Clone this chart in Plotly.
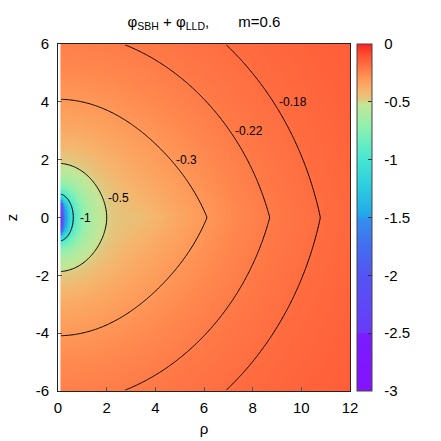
import numpy as np
import plotly.graph_objects as go

# ---- chart values ----
title_m = 0.6
# model parameters read/fitted from the picture's contours
bh_mass = 0.54          # Weyl rod half-length of the Schwarzschild BH
disk_mass = 1.45        # mass of the (inverted Morgan-Morgan) Lemos-Letelier disk
disk_inner = 2.8        # inner edge of the disk
levels = [-1.0, -0.5, -0.3, -0.22, -0.18]
label_text = ["-1", "-0.5", "-0.3", "-0.22", "-0.18"]
label_z = [0.0, 0.69, 1.99, 3.0, 3.98]
x_tickvals = [0, 2, 4, 6, 8, 10, 12]
y_tickvals = [-6, -4, -2, 0, 2, 4, 6]
cb_tickvals = [0, -0.5, -1, -1.5, -2, -2.5, -3]
rho_lim = [0, 12]
z_lim = [-6, 6]


def phi_sbh(rho, z, M):
    Rp = np.sqrt(rho**2 + (z + M)**2)
    Rm = np.sqrt(rho**2 + (z - M)**2)
    return 0.5*np.log((Rp + Rm - 2*M)/(Rp + Rm + 2*M))


def phi_mm1_unit(rho, z, a):
    R2 = rho**2 + z**2
    s = R2/a**2 - 1
    u2 = np.maximum(0.5*(s + np.sqrt(s**2 + 4*z**2/a**2)), 0)
    u = np.sqrt(u2)
    v2 = np.clip(1 - rho**2/(a**2*(1 + u2)), 0, 1)
    acot = np.arctan2(1.0, u)
    ul = np.maximum(u, 1e-9)
    q2 = np.where(u > 20, 2/(15*ul**3) - 4/(35*ul**5), 0.5*((3*u2 + 1)*acot - 3*u))
    P2 = 0.5*(3*v2 - 1)
    return -(1/a)*(acot + q2*P2)


def phi_lld(rho, z, m, a):
    r2 = rho**2 + z**2
    rp = a**2*rho/r2
    zp = a**2*z/r2
    return m*np.sqrt(a**2/r2)*(4/(3*np.pi))*phi_mm1_unit(rp, zp, a)


def phi(rho, z):
    return phi_sbh(rho, z, bh_mass) + phi_lld(rho, z, disk_mass, disk_inner)


rho_c = np.arange(0.125, 12.0, 0.05)
z_c = np.arange(-5.975, 6.0, 0.05)
RR, ZZ = np.meshgrid(rho_c, z_c)
F = phi(RR, ZZ)

cstops = [(-3.0, '#8412ff'), (-2.51, '#7a1cfe'), (-2.49, '#6a3af8'), (-2.25, '#5e48f6'),
          (-2.0, '#5454f4'), (-1.75, '#426ef0'), (-1.51, '#3490ee'), (-1.49, '#22a6ea'),
          (-1.25, '#2ccae0'), (-1.0, '#46e6d2'), (-0.85, '#6aeec2'), (-0.7, '#94f0ac'),
          (-0.52, '#c4e696'), (-0.48, '#e0c880'), (-0.4, '#f6b46c'), (-0.3, '#ff9858'),
          (-0.2, '#ff7444'), (-0.1, '#ff5232'), (0.0, '#ff2020')]
cscale = [[(v + 3)/3, c] for v, c in cstops]

FONT = 'Liberation Sans'
pad = '\u00a0\u00a0'
fig = go.Figure()
fig.add_trace(go.Heatmap(x=rho_c, y=z_c, z=F, zmin=-3, zmax=0, colorscale=cscale, hoverinfo='skip',
                         colorbar=dict(x=1.024, xanchor='left', xpad=0, ypad=0, y=0.5, len=1,
                                       thickness=15, outlinewidth=1, outlinecolor='#444',
                                       tickvals=cb_tickvals, ticktext=[pad + str(v) for v in cb_tickvals],
                                       ticks='inside', ticklen=4, tickcolor='#333',
                                       tickfont=dict(size=15, color='black', family=FONT))))
for lv in levels:
    fig.add_trace(go.Contour(x=rho_c, y=z_c, z=F, contours=dict(start=lv, end=lv, size=1, coloring='none'),
                             line=dict(color='black', width=1), showscale=False, hoverinfo='skip'))

# contour labels: placed just right of where each contour crosses the chosen height
rho_fine = np.linspace(0.1, 12, 6000)
for lv, txt, zl in zip(levels, label_text, label_z):
    row = phi(rho_fine, np.full_like(rho_fine, zl if zl != 0 else 1e-9))
    idx = np.where((row[:-1] - lv)*(row[1:] - lv) <= 0)[0]
    if len(idx):
        i = idx[0]
        rc = rho_fine[i] + (lv - row[i])*(rho_fine[i+1] - rho_fine[i])/(row[i+1] - row[i])
        fig.add_annotation(x=rc, y=zl, xref='x', yref='y', text=txt, showarrow=False,
                           xanchor='left', yanchor='middle', xshift=3 if zl != 0 else 5,
                           font=dict(size=12, color='black', family=FONT))

sp = '\u00a0'*7
fig.update_layout(width=441, height=441, margin=dict(l=58, r=91, t=44, b=50),
                  paper_bgcolor='white', plot_bgcolor='white', showlegend=False,
                  font=dict(family=FONT, size=15, color='black'),
                  title=dict(text=f"φ<sub>SBH</sub> + φ<sub>LLD</sub>,{sp}m={title_m}",
                             x=(58 + 146)/441, xanchor='center', y=1 - 22/441, yanchor='middle',
                             font=dict(size=15, color='black', family=FONT)))
fig.update_xaxes(range=rho_lim, tickvals=x_tickvals, ticktext=[str(v) for v in x_tickvals], ticks='inside',
                 ticklen=4, tickcolor='#555', showline=True, mirror=True, linecolor='#222', showgrid=False,
                 zeroline=False, ticklabelstandoff=3, tickfont=dict(size=15, family=FONT),
                 title=dict(text="ρ", standoff=8, font=dict(size=15, family=FONT)), automargin=False)
fig.update_yaxes(range=z_lim, tickvals=y_tickvals, ticktext=[str(v) for v in y_tickvals], ticks='inside',
                 ticklen=4, tickcolor='#555', showline=True, mirror=True, linecolor='#222', showgrid=False,
                 zeroline=False, ticklabelstandoff=5, tickfont=dict(size=15, family=FONT),
                 title=dict(text="z", standoff=14, font=dict(size=15, family=FONT)), automargin=False)
fig.write_html("out.html", config={'displayModeBar': False},
               post_script="document.body.style.margin='0';")
